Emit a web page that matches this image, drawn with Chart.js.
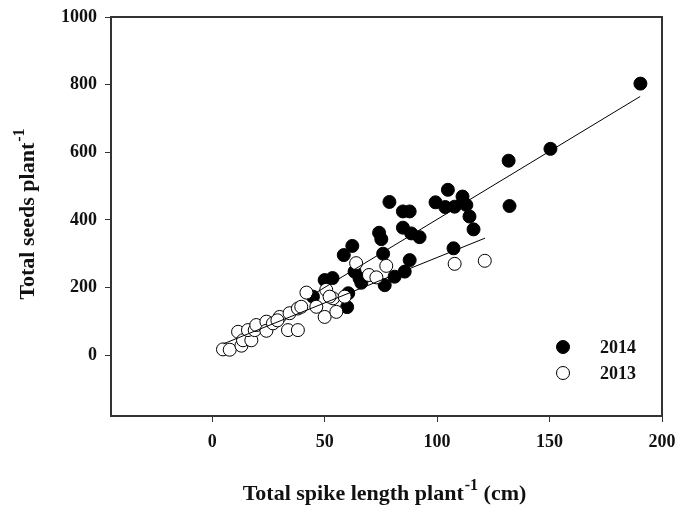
<!DOCTYPE html>
<html>
<head>
<meta charset="utf-8">
<script src="https://cdn.jsdelivr.net/npm/chart.js@4.4.1/dist/chart.umd.min.js"></script>
<style>
  html, body { margin: 0; padding: 0; background: #fff; }
  #wrap { width: 679px; height: 505px; }
</style>
</head>
<body>
<div id="wrap"><canvas id="c" width="679" height="505"></canvas></div>
<script>
// ---- data ----
const seriesNames = ["2014", "2013"];
const data2014 = [
  [44.8,173],[50,222],[53.5,228],[58.5,296],[60.5,183],[60,142],[62.3,323],[63.3,247],
  [65.5,227],[66.3,214],[74.2,362],[75.2,343],[76,300],[76.7,207],[78.8,453],[81.1,232],
  [84.8,425],[87.8,425],[84.8,377],[88.5,360],[92.2,349],[85.6,247],[87.8,281],[99.3,452],
  [103.6,438],[104.8,489],[107.8,439],[111.3,469],[113,444],[114.4,410],[116.2,372],
  [107.3,316],[131.8,575],[132.2,441],[150.4,610],[190.4,803]
];
const data2013 = [
  [4.8,17],[7.8,16],[11.5,69],[13,28],[13.7,44],[17.4,44],[15.9,74],[18.9,74],[19.6,89],
  [24.1,99],[24.1,72],[27,94],[30,113],[29,103],[33.7,74],[38.1,74],[34.4,124],[38.1,138],
  [39.6,143],[41.9,185],[46.3,143],[50,113],[55.2,128],[50.7,193],[53.7,168],[52.2,173],
  [58.9,173],[64,272],[69.7,237],[73,230],[77.4,264],[107.8,270],[121.2,279]
];
const fit2014 = [[44,176],[190.3,765]];
const fit2013 = [[5,33.5],[121.3,346]];
const xTicks = [0, 50, 100, 150, 200];
const yTicks = [0, 200, 400, 600, 800, 1000];
const xRange = [-45, 200];
const yRange = [-180, 1000];
const xTitle = ["Total spike length plant", "-1", " (cm)"];
const yTitle = ["Total seeds plant", "-1", ""];

const toPts = arr => arr.map(p => ({x: p[0], y: p[1]}));
const FONT = "'Liberation Serif', 'Times New Roman', serif";

const framePlugin = {
  id: 'frameAndText',
  afterDatasetsDraw(chart) {
    const {ctx, chartArea: a} = chart;
    ctx.save();
    ctx.strokeStyle = '#333';
    ctx.lineWidth = 2;
    ctx.strokeRect(a.left, a.top, a.right - a.left, a.bottom - a.top);
    ctx.restore();
  },
  afterDraw(chart) {
    const {ctx, chartArea: a} = chart;
    ctx.save();
    ctx.fillStyle = '#111';
    function drawSup(parts, cx, cy) {
      const big = "bold 22px " + FONT, small = "bold 16px " + FONT;
      ctx.font = big; const w0 = ctx.measureText(parts[0]).width;
      ctx.font = small; const w1 = ctx.measureText(parts[1]).width;
      ctx.font = big; const w2 = ctx.measureText(parts[2]).width;
      let x = cx - (w0 + w1 + w2 + 1) / 2;
      ctx.textBaseline = 'alphabetic'; ctx.textAlign = 'left';
      ctx.font = big; ctx.fillText(parts[0], x, cy); x += w0;
      ctx.font = small; ctx.fillText(parts[1], x + 1, cy - 10); x += w1 + 1;
      ctx.font = big; ctx.fillText(parts[2], x, cy);
    }
    drawSup(xTitle, (a.left + a.right) / 2 - 2, 500);
    ctx.save();
    ctx.translate(34, 214);
    ctx.rotate(-Math.PI / 2);
    drawSup(yTitle, 0, 0);
    ctx.restore();
    // legend
    const ds = chart.data.datasets;
    const items = [ds[2], ds[1]];
    const ys = [347, 373];
    items.forEach((d, i) => {
      ctx.beginPath();
      ctx.arc(563, ys[i], 6.5, 0, Math.PI * 2);
      ctx.fillStyle = d.backgroundColor;
      ctx.fill();
      ctx.lineWidth = 1; ctx.strokeStyle = '#000'; ctx.stroke();
      ctx.fillStyle = '#111';
      ctx.font = "bold 18px " + FONT;
      ctx.textAlign = 'left'; ctx.textBaseline = 'middle';
      ctx.fillText(d.label, 600, ys[i] + 1);
    });
    ctx.restore();
  }
};

new Chart(document.getElementById('c'), {
  type: 'scatter',
  data: {
    datasets: [
      { type: 'line', label: 'fit', data: toPts(fit2014), borderColor: '#000', borderWidth: 1,
        pointRadius: 0, fill: false, order: 0 },
      { label: seriesNames[1], data: toPts(data2013), backgroundColor: '#fff', borderColor: '#000',
        borderWidth: 1, pointRadius: 6.5, order: 1 },
      { label: seriesNames[0], data: toPts(data2014), backgroundColor: '#000', borderColor: '#000',
        borderWidth: 1, pointRadius: 6.5, order: 2 },
      { type: 'line', label: 'fit', data: toPts(fit2013), borderColor: '#000', borderWidth: 1,
        pointRadius: 0, fill: false, order: 0 }
    ]
  },
  options: {
    responsive: false,
    animation: false,
    events: [],
    layout: { padding: { top: 17, right: 17, left: 0, bottom: 0 } },
    plugins: { legend: { display: false }, tooltip: { enabled: false } },
    scales: {
      x: {
        type: 'linear', min: xRange[0], max: xRange[1],
        afterBuildTicks: s => { s.ticks = xTicks.map(v => ({value: v})); },
        afterFit: s => { s.height = 89; s.paddingRight = 0; s.paddingLeft = 0; },
        grid: { drawOnChartArea: false, drawTicks: true, tickLength: 6, color: '#333', lineWidth: 1 },
        border: { display: true, color: '#333', width: 2 },
        ticks: { color: '#111', font: { family: FONT, size: 18, weight: 'bold' }, padding: 10, maxRotation: 0,
                 callback: v => String(v) }
      },
      y: {
        type: 'linear', min: yRange[0], max: yRange[1],
        afterBuildTicks: s => { s.ticks = yTicks.map(v => ({value: v})); },
        afterFit: s => { s.width = 111; s.paddingTop = 0; s.paddingBottom = 0; },
        grid: { drawOnChartArea: false, drawTicks: true, tickLength: 6, color: '#333', lineWidth: 1 },
        border: { display: true, color: '#333', width: 2 },
        ticks: { color: '#111', font: { family: FONT, size: 18, weight: 'bold' }, padding: 8,
                 callback: v => String(v) }
      }
    }
  },
  plugins: [framePlugin]
});
</script>
</body>
</html>
